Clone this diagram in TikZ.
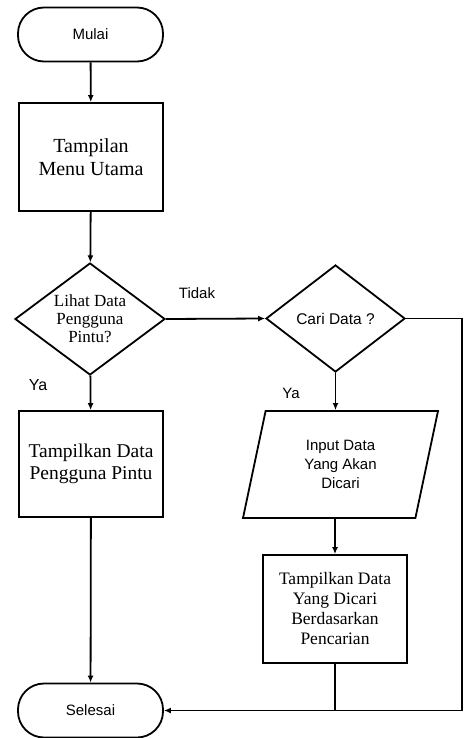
\documentclass[tikz,border=0pt]{standalone}
\usepackage{fontspec}
\setmainfont{Liberation Serif}
\newfontfamily\sansfont{Liberation Sans}
\usetikzlibrary{shapes.geometric,arrows.meta}

\begin{document}
\begin{tikzpicture}[x=1pt,y=-1pt,line width=1.8pt,
  flow/.style={-{Latex[length=7pt,width=6pt]}},
  terminal/.style={draw, rectangle, rounded corners=26pt, minimum width=145pt,
    minimum height=54pt, inner sep=0pt, font=\sansfont\fontsize{15}{18}\selectfont},
  procbox/.style={draw, rectangle, minimum width=144pt, inner sep=0pt, align=center},
  decision/.style={draw, diamond, inner sep=0pt, align=center},
  iobox/.style={draw, trapezium, trapezium left angle=65, trapezium right angle=115,
    trapezium stretches body, inner sep=0pt, align=center},
  lbl/.style={font=\sansfont\fontsize{15}{18}\selectfont}
]
\useasboundingbox (0,0) rectangle (465,738);

% main column
\node[terminal] (mulai) at (90.5,34.5) {Mulai};
\node[procbox, minimum height=108pt, font=\fontsize{20}{23}\selectfont]
  (menu) at (91,157) {Tampilan\\Menu Utama};
\node[decision, minimum width=150pt, minimum height=112pt, aspect=1.34,
  font=\fontsize{17}{18}\selectfont]
  (lihat) at (90,319) {Lihat Data\\Pengguna\\Pintu?};
\node[procbox, minimum height=106pt, font=\fontsize{19.5}{22}\selectfont]
  (tampil) at (91,464) {Tampilkan Data\\Pengguna Pintu};
\node[terminal] (selesai) at (90.5,710.5) {Selesai};

% search branch
\node[decision, minimum width=139pt, minimum height=107pt, aspect=1.3,
  font=\sansfont\fontsize{15.5}{18}\selectfont]
  (cari) at (335.5,318.5) {Cari Data ?};
\node[iobox, minimum width=195pt, minimum height=107pt,
  font=\sansfont\fontsize{15}{19}\selectfont]
  (input) at (340.5,464.5) {Input Data\\Yang Akan\\Dicari};
\node[procbox, minimum height=108pt, font=\fontsize{17.5}{20}\selectfont]
  (hasil) at (335,609) {Tampilkan Data\\Yang Dicari\\Berdasarkan\\Pencarian};

\coordinate (sudut) at (462,710.5);

% connectors
\draw[flow] (mulai) -- (menu);
\draw[flow] (menu) -- (lihat);
\draw[flow] (lihat) -- (tampil);
\draw[flow] (tampil) -- (selesai);
\draw[flow] (lihat.east) -- (cari.west);
\draw[flow] (cari.south) -- (cari.south |- input.north);
\draw[flow] (hasil.north |- input.south) -- (hasil.north);
\draw (hasil.south) -- (hasil.south |- selesai.east);
\draw[flow, line width=1.4pt] (cari.east) -| (sudut) -- (selesai.east);

% branch labels
\node[lbl] (tidak) at (197,293) {Tidak};
\node[lbl, font=\sansfont\fontsize{16}{18}\selectfont] (ya1) at (38,385) {Ya};
\node[lbl] (ya2) at (291,393) {Ya};
\end{tikzpicture}
\end{document}
